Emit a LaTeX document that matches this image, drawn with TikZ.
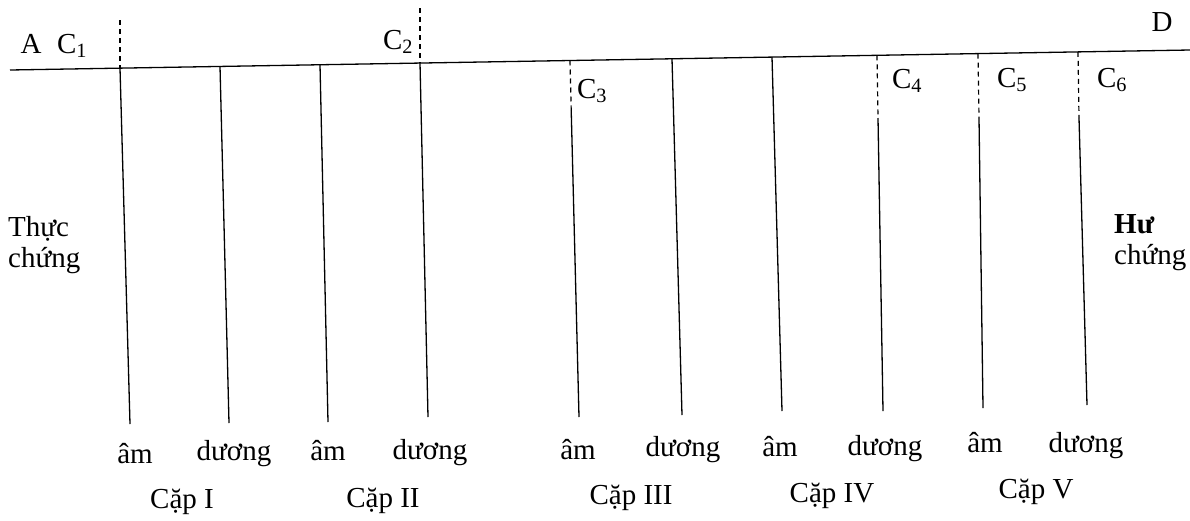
\documentclass[tikz,border=0pt]{standalone}
\usepackage{fontspec}
\setmainfont{Liberation Serif}
\begin{document}
\begin{tikzpicture}[x=1pt,y=-1pt,
  ln/.style={line width=1.3pt},
  dsh/.style={line width=1.2pt,dash pattern=on 5pt off 4pt},
  lbl/.style={font=\fontsize{29}{31}\selectfont,inner sep=0pt}]
\useasboundingbox (0,0) rectangle (1190,520);
% main line
\coordinate (A0) at (10,70);
\coordinate (D0) at (1190,50);
\draw[ln] (A0) -- (D0);
% top points on the line
\coordinate (t1) at (120,68.1);
\coordinate (t2) at (220,66.4);
\coordinate (t3) at (320,64.7);
\coordinate (t4) at (420,63.1);
\coordinate (t5) at (570,60.5);
\coordinate (t6) at (672,58.8);
\coordinate (t7) at (772,57.1);
\coordinate (t8) at (877,55.3);
\coordinate (t9) at (978,53.6);
\coordinate (t10) at (1078,51.9);
% bottoms
\coordinate (b1) at (130,424);
\coordinate (b2) at (229,423);
\coordinate (b3) at (328,422);
\coordinate (b4) at (428,417);
\coordinate (b5) at (579,417);
\coordinate (b6) at (682,415);
\coordinate (b7) at (782,411);
\coordinate (b8) at (883,411);
\coordinate (b9) at (983,408);
\coordinate (b10) at (1087,405);
% dashed ends
\coordinate (u1) at (120,20);
\coordinate (u4) at (420,8);
\coordinate (m5) at (571.2,110);
\coordinate (m8) at (878,118);
\coordinate (m9) at (979,118);
\coordinate (m10) at (1079,118);
% lines
\draw[dsh] (u1) -- (t1);
\draw[dsh] (u4) -- (t4);
\foreach \i in {1,2,3,4,6,7} \draw[ln] (t\i) -- (b\i);
\draw[dsh] (t5) -- (m5);
\draw[ln] (m5) -- (b5);
\foreach \i in {8,9,10} {\draw[dsh] (t\i) -- (m\i); \draw[ln] (m\i) -- (b\i);}
% top labels
\node[lbl,anchor=base] (A) at (31,53) {A};
\node[lbl,anchor=base] (C1) at (72,53) {C\textsubscript{1}};
\node[lbl,anchor=base] (C2) at (398,49) {C\textsubscript{2}};
\node[lbl,anchor=base] (D) at (1162,31) {D};
\node[lbl,anchor=base] (C3) at (592,98) {C\textsubscript{3}};
\node[lbl,anchor=base] (C4) at (907,88) {C\textsubscript{4}};
\node[lbl,anchor=base] (C5) at (1012,87) {C\textsubscript{5}};
\node[lbl,anchor=base] (C6) at (1112,87) {C\textsubscript{6}};
% side labels
\node[lbl,align=left,anchor=west] (TC) at (8,245) {Thực\\chứng};
\node[lbl,align=left,anchor=west] (HC) at (1114,243) {\textbf{Hư}\\chứng};
% bottom labels
\node[lbl,anchor=base] (l1) at (135,463) {âm};
\node[lbl,anchor=base] (l2) at (234,460) {dương};
\node[lbl,anchor=base] (l3) at (328,460) {âm};
\node[lbl,anchor=base] (l4) at (430,459) {dương};
\node[lbl,anchor=base] (l5) at (578,459) {âm};
\node[lbl,anchor=base] (l6) at (683,456) {dương};
\node[lbl,anchor=base] (l7) at (780,456) {âm};
\node[lbl,anchor=base] (l8) at (885,455) {dương};
\node[lbl,anchor=base] (l9) at (985,452) {âm};
\node[lbl,anchor=base] (l10) at (1086,452) {dương};
\node[lbl,anchor=base] (p1) at (182,508) {Cặp I};
\node[lbl,anchor=base] (p2) at (383,507) {Cặp II};
\node[lbl,anchor=base] (p3) at (631,504) {Cặp III};
\node[lbl,anchor=base] (p4) at (832,502) {Cặp IV};
\node[lbl,anchor=base] (p5) at (1036,498) {Cặp V};
\end{tikzpicture}
\end{document}
